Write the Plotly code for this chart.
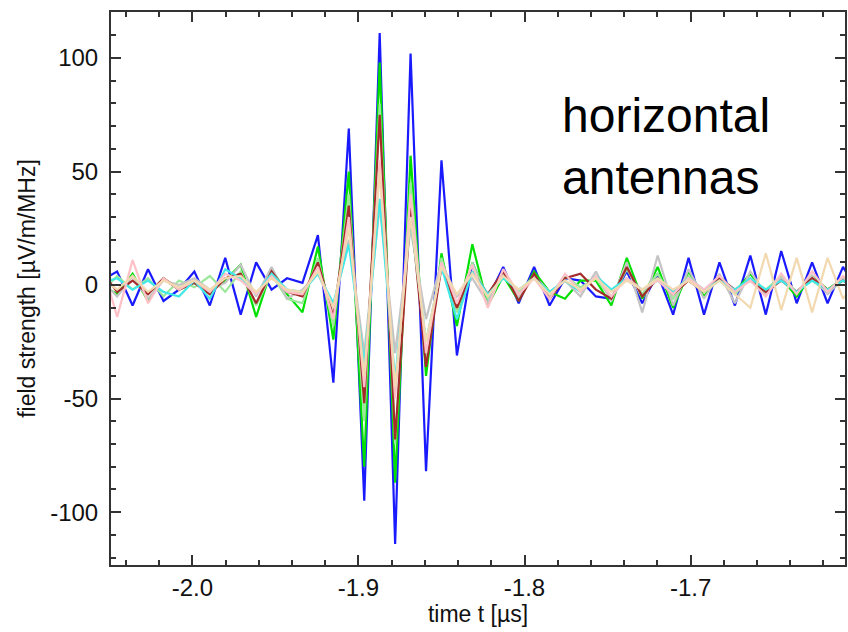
import plotly.graph_objects as go

# sampling grid (µs)
T_PEAK = -1.8872
DT = 0.0093
K = list(range(-18, 32))
time_us = [round(T_PEAK + DT * k, 5) for k in K]

blue = [2, 6, -9, 7, -7, -2, 6, -9, 12, -13, 10, -2, 3, 1, 22, -43, 69, -95,
        111, -114, 102, -82, 55, -31, 10, -6, 8, -8, 8, -9, 3, 2, -5, -6, 6, -8,
        5, -13, 12, -13, 10, -9, 13, -13, 15, -8, 10, -8, 8, -3]
green = [0, -4, 5, -7, 3, -2, 1, -3, 2, 9, -14, 7, -4, -12, 17, -24, 50, -80,
         98, -87, 57, -40, 14, -18, 18, -9, 4, -7, 6, -3, -6, 2, 2, -9, 12, -6,
         8, -10, 6, -5, 4, -3, 5, -4, 3, -5, 4, -2, 3, -1]
palegreen = [-3, 4, -2, 3, -5, 2, -1, 4, -3, 6, -9, 5, -6, -8, 12, -18, 40, -60,
             80, -70, 45, -32, 12, -12, 10, -6, 5, -3, 4, -5, 4, -1, 3, -6, 7, -4,
             5, -6, 4, -3, 2, -4, 3, -2, 4, -3, 2, -3, 2, -2]
grey = [2, -5, 4, -6, 2, 0, 3, -2, 1, 9, -5, 8, -6, -2, 5, -10, 20, -30,
        35, -30, 25, -15, 10, -5, 3, -8, 6, -5, 4, -3, 2, -5, 6, -7, 10, -12,
        13, -9, 7, -6, 5, -8, 6, -4, 3, -3, 4, -4, 3, -3]
brown = [6, -3, 2, -4, 3, -2, 1, -4, 3, 5, -8, 6, -3, -5, 10, -14, 35, -52,
         75, -68, 34, -36, 8, -10, 6, -4, 6, -7, 5, -6, 3, 5, -2, -6, 8, -5,
         3, -4, 2, -3, 3, -2, 2, -3, 2, -3, 3, -2, 2, -2]
cyan = [1, 3, -2, 2, -3, -5, 2, -6, 7, 3, -4, 5, -2, -3, 5, -8, 18, -35,
        38, -42, 30, -25, 8, -15, 6, -4, 3, -2, 3, -3, 2, -3, 4, -2, 3, -2,
        2, -3, 3, -2, 2, -2, 3, -2, 2, -3, 2, -2, 2, -2]
pink = [10, -14, 11, -8, 3, -2, 2, -3, 5, 2, -4, 4, -3, -4, 8, -15, 30, -45,
        55, -50, 40, -30, 10, -8, 9, -10, 7, -4, 3, -6, 5, -3, 4, -5, 3, -2,
        2, -4, 3, -2, 4, -3, 2, -5, 5, -4, 6, -3, 4, -2]
tan = [3, -2, 4, -3, 2, -1, 2, -2, 3, 4, -3, 3, -2, -3, 6, -10, 25, -40,
       50, -45, 30, -25, 8, -4, 5, -5, 4, -2, 3, -4, 2, -2, 3, -3, 2, -2,
       3, -2, 2, -3, 2, -4, -10, 14, -11, 12, -12, 12, -6, 3]

series = [
    ("blue", blue, "#1a1aff"),
    ("green", green, "#00e000"),
    ("palegreen", palegreen, "#9be89b"),
    ("grey", grey, "#c4c4c4"),
    ("brown", brown, "#a52a2a"),
    ("cyan", cyan, "#40e8e8"),
    ("pink", pink, "#ffc0c8"),
    ("tan", tan, "#f2d9b0"),
]

x_tickvals = [-2.0, -1.9, -1.8, -1.7]
x_ticktext = ["-2.0", "-1.9", "-1.8", "-1.7"]
y_tickvals = [-100, -50, 0, 50, 100]
y_ticktext = ["-100", "-50", "0", "50", "100"]

FONT = "Liberation Sans, Arial"

fig = go.Figure()
for name, vals, col in series:
    fig.add_trace(go.Scatter(x=time_us, y=vals, mode="lines", name=name,
                             line=dict(color=col, width=2.2), showlegend=False))

axis_common = dict(
    showgrid=False, zeroline=False, showline=True, linecolor="#333333",
    linewidth=2, mirror="ticks", ticks="inside", ticklen=10, tickwidth=1.5,
    tickcolor="#333333", tickfont=dict(family=FONT, size=24, color="#111111"),
)

fig.update_layout(
    width=848, height=632,
    margin=dict(l=111, r=1, t=12, b=67),
    paper_bgcolor="white", plot_bgcolor="white",
    xaxis=dict(range=[-2.049, -1.607], tickvals=x_tickvals, ticktext=x_ticktext,
               minor=dict(dtick=0.02, tick0=-2.0, ticks="inside", ticklen=5, tickcolor="#333333"),
               title=dict(text="time t [µs]", font=dict(family=FONT, size=23, color="#111111"),
                          standoff=6),
               **axis_common),
    yaxis=dict(range=[-123.3, 120.3], tickvals=y_tickvals, ticktext=y_ticktext,
               ticklabelstandoff=6,
               minor=dict(dtick=10, tick0=0, ticks="inside", ticklen=5, tickcolor="#333333"),
               title=dict(text="field strength [µV/m/MHz]", font=dict(family=FONT, size=23, color="#111111"),
                          standoff=8),
               **axis_common),
    annotations=[dict(text="horizontal<br>antennas", x=0.612, y=0.756, xref="paper", yref="paper",
                      xanchor="left", yanchor="middle", showarrow=False, align="left",
                      font=dict(family=FONT, size=48, color="black"))],
)

fig.write_html("out.html")
